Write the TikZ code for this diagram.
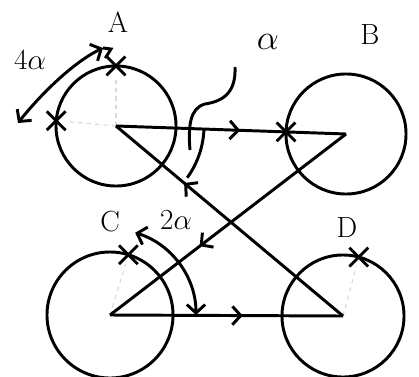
\documentclass[tikz,border=0pt]{standalone}
\usepackage{tikz}
\usetikzlibrary{arrows.meta,decorations.markings,shapes.misc}

\begin{document}
\begin{tikzpicture}[x=0.025cm,y=0.025cm,line width=2.1pt,
  wheel/.style={draw,circle,inner sep=0pt,outer sep=0pt},
  tick/.style={draw,cross out,minimum size=0.4cm,inner sep=0pt,line width=2pt},
  lbl/.style={font=\huge},
  guide/.style={gray!30,dashed,line width=0.8pt},
  midarrow/.style={postaction={decorate},decoration={markings,mark=at position #1 with {\arrow{Straight Barb[length=6pt,width=13pt]}}}}]
\useasboundingbox (0,0) rectangle (419,376);
% the four wheels
\node[wheel,minimum size=3cm] (A) at (116,250) {};
\node[wheel,minimum size=3cm] (B) at (346,242) {};
\node[wheel,minimum size=3.15cm] (C) at (110,61) {};
\node[wheel,minimum size=3.05cm] (D) at (343,60) {};
\node[lbl] (la) at (118,354) {A};
\node[lbl] (lb) at (370,341) {B};
\node[lbl] (lc) at (110,154) {C};
\node[lbl] (ld) at (347,148) {D};
% marks on the rims
\node[tick] (a1) at (A.90) {};
\node[tick] (a2) at (A.175) {};
\node[tick] (b1) at (B.178) {};
\node[tick] (c1) at (C.73) {};
\node[tick] (d1) at (D.75) {};
\draw[guide] (A.center) -- (a1); \draw[guide] (A.center) -- (a2);
\draw[guide] (C.center) -- (c1); \draw[guide] (D.center) -- (d1);
% path between the centres
\draw[midarrow=0.54] (A.center) -- (B.center);
\draw[midarrow=0.62] (B.center) -- (C.center);
\draw[midarrow=0.57] (C.center) -- (D.center);
\draw[midarrow=0.70] (D.center) -- (A.center);
% angle alpha at A
\draw (A.center) ++(-2:88) arc (-2:-36:88);
\node[font=\Huge] (alpha) at (268,334) {$\alpha$};
\coordinate (alphatop) at (235,309);
\coordinate (alphatip) at (190,226);
\draw (alphatop) .. controls (236,285) and (225,275) .. (205,272) .. controls (190,268) and (188,250) .. (alphatip);
% 4 alpha between the marks of A
\node[font=\huge] (four) at (30,316) {$4\alpha$};
\coordinate (fa1) at (18,253);
\coordinate (fa2) at (103,328);
\draw[{Straight Barb[length=6pt,width=13pt]}-{Straight Barb[length=6pt,width=13pt]}] (fa1) .. controls (36,276) and (70,312) .. (fa2);
\draw (fa2) -- (111,327) -- (106,319) -- (a1);
% 2 alpha at C
\node[font=\huge] (two) at (176,156) {$2\alpha$};
\draw[{Straight Barb[length=6pt,width=13pt]}-{Straight Barb[length=6pt,width=13pt]}] (C.center) ++(0:86) arc (0:73:86);
\end{tikzpicture}
\end{document}
